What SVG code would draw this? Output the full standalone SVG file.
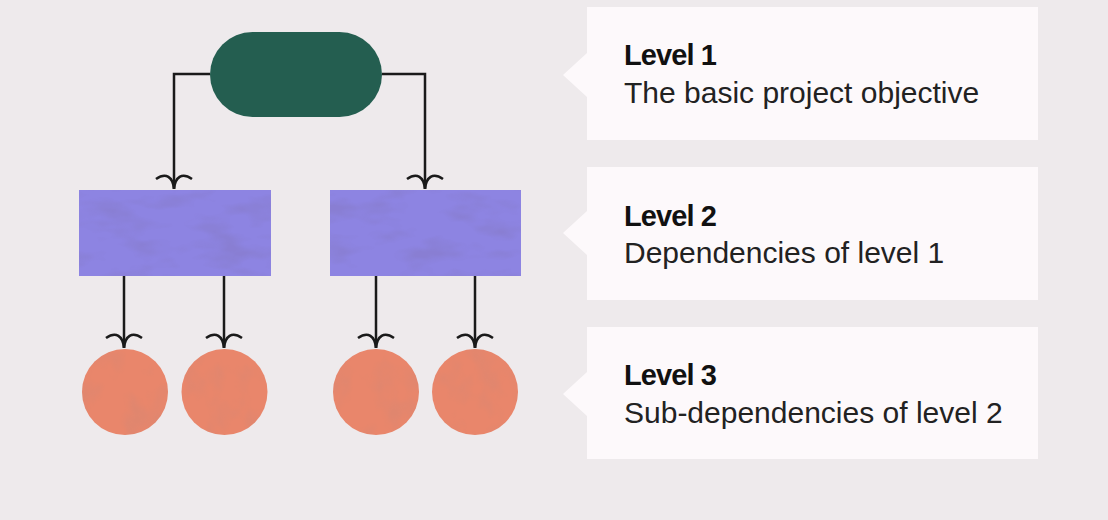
<svg xmlns="http://www.w3.org/2000/svg" width="1108" height="520" viewBox="0 0 1108 520">
  <defs>
    <style>
      .bg { fill: #eeeaec; }
      .card { fill: #fdf9fb; }
      .title { font-family: "Liberation Sans", Arial, sans-serif; font-weight: bold; font-size: 29px; letter-spacing: -0.9px; fill: #111111; }
      .desc { font-family: "Liberation Sans", Arial, sans-serif; font-size: 30px; fill: #222222; }
      .pill { fill: #245e50; }
      .box { fill: #8d84e2; }
      .ball { fill: #e9866b; }
      .conn { fill: none; stroke: #1a1a1a; stroke-width: 2.5; }
      .tex { opacity: 0.22; }
    </style>
    <marker id="fork" markerUnits="userSpaceOnUse" markerWidth="40" markerHeight="40" viewBox="-20 -20 40 40" refX="0" refY="0" orient="auto" overflow="visible">
      <path d="M -10,18 C -17,8 -12,1 0,0 M -10,-18 C -17,-8 -12,-1 0,0" fill="none" stroke="#1a1a1a" stroke-width="2.6"/>
    </marker>
    <filter id="mottle" x="0" y="0" width="100%" height="100%">
      <feTurbulence type="fractalNoise" baseFrequency="0.02 0.05" numOctaves="3" seed="7"/>
      <feColorMatrix type="matrix" values="0 0 0 0 0.2  0 0 0 0 0.15  0 0 0 0 0.35  0 0 0 -3 1.6"/>
      <feComposite in2="SourceGraphic" operator="in"/>
    </filter>
    <filter id="mottle2" x="0" y="0" width="100%" height="100%">
      <feTurbulence type="fractalNoise" baseFrequency="0.04 0.03" numOctaves="3" seed="3"/>
      <feColorMatrix type="matrix" values="0 0 0 0 0.55  0 0 0 0 0.25  0 0 0 0 0.2  0 0 0 -3 1.6"/>
      <feComposite in2="SourceGraphic" operator="in"/>
    </filter>
  </defs>

  <rect class="bg" x="0" y="0" width="1108" height="520"/>

  <g id="connectors">
    <path class="conn" d="M210,74 H174 V189" marker-end="url(#fork)"/>
    <path class="conn" d="M382,74 H425 V189" marker-end="url(#fork)"/>
    <path class="conn" d="M124,276 V348" marker-end="url(#fork)"/>
    <path class="conn" d="M224,276 V348" marker-end="url(#fork)"/>
    <path class="conn" d="M376,276 V348" marker-end="url(#fork)"/>
    <path class="conn" d="M475,276 V348" marker-end="url(#fork)"/>
  </g>

  <g id="objective">
    <rect class="pill" x="210" y="32" width="172" height="85" rx="42.5" ry="42.5"/>
  </g>

  <g id="dep-left">
    <rect class="box" x="79" y="190" width="192" height="86"/>
    <rect class="box tex" x="79" y="190" width="192" height="86" filter="url(#mottle)"/>
  </g>
  <g id="dep-right">
    <rect class="box" x="330" y="190" width="191" height="86"/>
    <rect class="box tex" x="330" y="190" width="191" height="86" filter="url(#mottle)"/>
  </g>

  <g id="sub-1">
    <circle class="ball" cx="125" cy="392" r="43"/>
    <circle class="ball tex" cx="125" cy="392" r="43" filter="url(#mottle2)"/>
  </g>
  <g id="sub-2">
    <circle class="ball" cx="224.5" cy="392" r="43"/>
    <circle class="ball tex" cx="224.5" cy="392" r="43" filter="url(#mottle2)"/>
  </g>
  <g id="sub-3">
    <circle class="ball" cx="376" cy="392" r="43"/>
    <circle class="ball tex" cx="376" cy="392" r="43" filter="url(#mottle2)"/>
  </g>
  <g id="sub-4">
    <circle class="ball" cx="475" cy="392" r="43"/>
    <circle class="ball tex" cx="475" cy="392" r="43" filter="url(#mottle2)"/>
  </g>

  <g id="level-1">
    <path class="card" d="M587,7 H1038 V140 H587 V97 L563,75 L587,53 Z"/>
    <text class="title" x="624" y="65">Level 1</text>
    <text class="desc" x="624" y="103">The basic project objective</text>
  </g>
  <g id="level-2">
    <path class="card" d="M587,167 H1038 V300 H587 V255 L563,233 L587,211 Z"/>
    <text class="title" x="624" y="226">Level 2</text>
    <text class="desc" x="624" y="263">Dependencies of level 1</text>
  </g>
  <g id="level-3">
    <path class="card" d="M587,327 H1038 V459 H587 V416 L563,394 L587,372 Z"/>
    <text class="title" x="624" y="385">Level 3</text>
    <text class="desc" x="624" y="423">Sub-dependencies of level 2</text>
  </g>
</svg>
